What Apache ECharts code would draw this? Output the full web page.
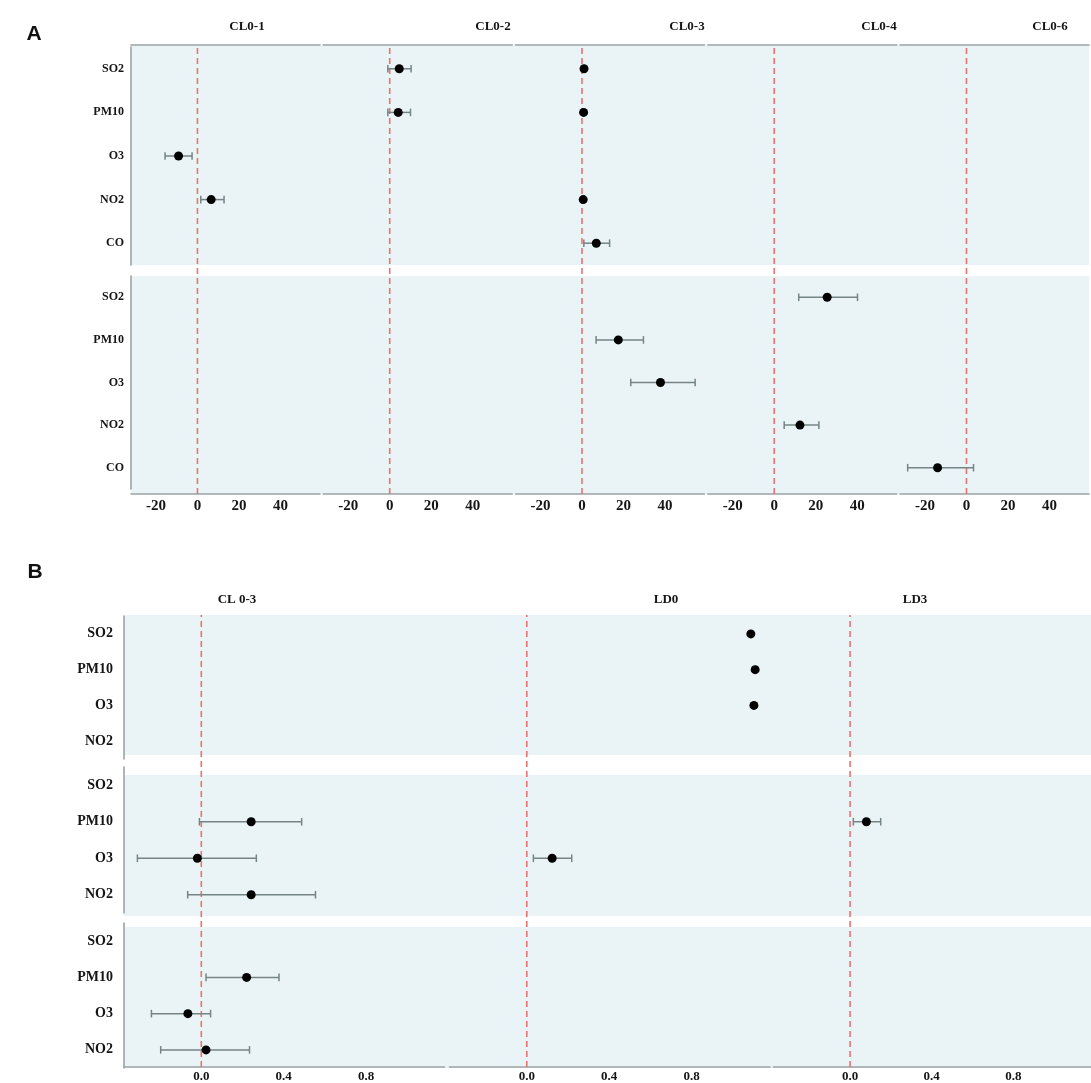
<!DOCTYPE html>
<html>
<head>
<meta charset="utf-8">
<title>Pollutant lag effects</title>
<script src="https://cdn.jsdelivr.net/npm/echarts@6/dist/echarts.min.js"></script>
<style>
  html, body { margin: 0; padding: 0; background: #ffffff; }
  #chart { width: 1091px; height: 1083px; }
</style>
</head>
<body>
<div id="chart"></div>
<script>
// ---------------- data ----------------
const pollutantsA = ['SO2', 'PM10', 'O3', 'NO2', 'CO'];
const pollutantsB = ['SO2', 'PM10', 'O3', 'NO2'];
const lagsA = ['CL0-1', 'CL0-2', 'CL0-3', 'CL0-4', 'CL0-6'];
const lagsB = ['CL 0-3', 'LD0', 'LD3'];
const ticksA = [-20, 0, 20, 40];
const ticksB = [0.0, 0.4, 0.8];

// each record: [lag, pollutant, estimate, lower, upper]
const estA1 = [
  ['CL0-1', 'O3', -9.1, -15.6, -2.6],
  ['CL0-1', 'NO2', 6.6, 1.6, 12.8],
  ['CL0-2', 'SO2', 4.6, -0.9, 10.3],
  ['CL0-2', 'PM10', 4.1, -0.9, 10.0],
  ['CL0-3', 'SO2', 1.0, 0.6, 1.4],
  ['CL0-3', 'PM10', 0.8, 0.4, 1.2],
  ['CL0-3', 'NO2', 0.6, 0.2, 1.0],
  ['CL0-3', 'CO', 6.9, 0.9, 13.3]
];
const estA2 = [
  ['CL0-3', 'PM10', 17.5, 6.8, 29.6],
  ['CL0-3', 'O3', 37.8, 23.5, 54.5],
  ['CL0-4', 'SO2', 25.5, 11.8, 40.1],
  ['CL0-4', 'NO2', 12.4, 4.8, 21.5],
  ['CL0-6', 'CO', -13.9, -28.3, 3.4]
];
const estB1 = [
  ['LD0', 'SO2', 1.087, 1.085, 1.089],
  ['LD0', 'PM10', 1.108, 1.106, 1.110],
  ['LD0', 'O3', 1.102, 1.100, 1.104]
];
const estB2 = [
  ['CL 0-3', 'PM10', 0.242, -0.009, 0.487],
  ['CL 0-3', 'O3', -0.019, -0.310, 0.267],
  ['CL 0-3', 'NO2', 0.242, -0.066, 0.554],
  ['LD0', 'O3', 0.123, 0.032, 0.218],
  ['LD3', 'PM10', 0.080, 0.016, 0.150]
];
const estB3 = [
  ['CL 0-3', 'PM10', 0.220, 0.023, 0.377],
  ['CL 0-3', 'O3', -0.065, -0.242, 0.045],
  ['CL 0-3', 'NO2', 0.023, -0.197, 0.234]
];

// ---------------- styling / layout ----------------
const SERIF = '"Liberation Serif", "Times New Roman", serif';
const SANS = '"Liberation Sans", Arial, sans-serif';
const BG = '#eaf4f6';
const AXIS_COL = '#9ca4a5';
const BAR_COL = '#758485';
const REF_COL = '#e87373';
const TEXT_COL = '#151515';

const panels = [
  {
    lags: lagsA, cats: pollutantsA, rows: [estA1, estA2], ticks: ticksA,
    min: -32, max: 59, colLeft: [131, 323.25, 515.5, 707.75, 900], colW: 189,
    top: 45, bottom: 494,
    rowBoxes: [[47, 218], [276, 213]], bgBoxes: [[45, 220], [276, 218]],
    topLine: true, yFont: 12, xFont: 15, yMargin: 7, xMargin: 5,
    fmt: v => String(Math.round(v)),
    letter: { text: 'A', x: 34, y: 34 },
    titleY: 27, titleX: [247, 493, 687, 879, 1050], titleFont: 13
  },
  {
    lags: lagsB, cats: pollutantsB, rows: [estB1, estB2, estB3], ticks: ticksB,
    min: -0.375, max: 1.18, colLeft: [124, 449.5, 773.5], colW: 320.5,
    top: 615, bottom: 1069,
    rowBoxes: [[616, 143], [767, 146], [923, 145]], bgBoxes: [[615, 140], [775, 141], [927, 141]],
    topLine: false, yFont: 14, xFont: 13, yMargin: 11, xMargin: 3,
    fmt: v => v.toFixed(1),
    letter: { text: 'B', x: 35, y: 572 },
    titleY: 600, titleX: [237, 666, 915], titleFont: 13
  }
];

const grid = [], xAxis = [], yAxis = [], series = [], graphic = [];

function addGrid(box) {
  grid.push(Object.assign({ containLabel: false }, box));
  return grid.length - 1;
}

panels.forEach(p => {
  const fullW = p.colLeft[p.colLeft.length - 1] + p.colW - p.colLeft[0];

  // shaded background band for each facet row
  p.bgBoxes.forEach(([t, h]) => {
    const g = addGrid({ left: p.colLeft[0], top: t, width: fullW, height: h,
      show: true, backgroundColor: BG, borderWidth: 0 });
    xAxis.push({ gridIndex: g, type: 'value', show: false, min: 0, max: 1 });
    yAxis.push({ gridIndex: g, type: 'value', show: false, min: 0, max: 1 });
  });

  p.lags.forEach((lag, c) => {
    // full-height column: bottom axis, optional top rule, zero reference line
    const cg = addGrid({ left: p.colLeft[c], top: p.top, width: p.colW, height: p.bottom - p.top });
    const cx = xAxis.length;
    xAxis.push({
      gridIndex: cg, type: 'value', min: p.min, max: p.max, position: 'bottom',
      axisLine: { show: true, onZero: false, lineStyle: { color: AXIS_COL, width: 1.6 } },
      axisTick: { show: false },
      splitLine: { show: false },
      axisLabel: {
        show: true, customValues: p.ticks, formatter: p.fmt, margin: p.xMargin,
        color: TEXT_COL, fontFamily: SERIF, fontWeight: 'bold', fontSize: p.xFont
      }
    });
    if (p.topLine) {
      xAxis.push({
        gridIndex: cg, type: 'value', min: p.min, max: p.max, position: 'top',
        axisLine: { show: true, onZero: false, lineStyle: { color: AXIS_COL, width: 1.6 } },
        axisTick: { show: false }, splitLine: { show: false }, axisLabel: { show: false }
      });
    }
    const cy = yAxis.length;
    yAxis.push({ gridIndex: cg, type: 'value', min: 0, max: 1, show: false });
    series.push({
      type: 'custom', xAxisIndex: cx, yAxisIndex: cy, z: 6, silent: true,
      data: [[0]],
      renderItem: (params, api) => {
        const a = api.coord([api.value(0), 0]);
        const b = api.coord([api.value(0), 1]);
        return { type: 'line', shape: { x1: a[0], y1: a[1], x2: a[0], y2: b[1] },
          style: { stroke: REF_COL, lineWidth: 1.6, lineDash: [6, 4] } };
      }
    });

    // column titles
    graphic.push({
      type: 'text', x: p.titleX[c], y: p.titleY, silent: true,
      style: { text: lag, align: 'center', verticalAlign: 'middle', fill: TEXT_COL,
        fontFamily: SERIF, fontWeight: 'bold', fontSize: p.titleFont }
    });

    // one plotting cell per facet row
    p.rows.forEach((rows, r) => {
      const [t, h] = p.rowBoxes[r];
      const g = addGrid({ left: p.colLeft[c], top: t, width: p.colW, height: h });
      const xi = xAxis.length;
      xAxis.push({ gridIndex: g, type: 'value', min: p.min, max: p.max, show: false });
      const yi = yAxis.length;
      const first = c === 0;
      yAxis.push({
        gridIndex: g, type: 'category', data: p.cats, inverse: true, show: first,
        position: 'left',
        axisLine: { show: first, onZero: false, lineStyle: { color: AXIS_COL, width: 1.6 } },
        axisTick: { show: false }, splitLine: { show: false },
        axisLabel: { show: first, margin: p.yMargin, color: TEXT_COL,
          fontFamily: SERIF, fontWeight: 'bold', fontSize: p.yFont }
      });
      const recs = rows.filter(d => d[0] === lag);
      const barData = recs.map(d => [d[2], d[3], d[4], p.cats.indexOf(d[1])]);
      const ptData = recs.map(d => [d[2], p.cats.indexOf(d[1])]);
      series.push({
        type: 'custom', xAxisIndex: xi, yAxisIndex: yi, z: 7, silent: true,
        encode: { x: [0, 1, 2], y: 3 },
        data: barData,
        renderItem: (params, api) => {
          const yv = api.value(3);
          const lo = api.coord([api.value(1), yv]);
          const hi = api.coord([api.value(2), yv]);
          const cap = 3.8;
          const st = { stroke: BAR_COL, lineWidth: 1.5 };
          return { type: 'group', children: [
            { type: 'line', shape: { x1: lo[0], y1: lo[1], x2: hi[0], y2: hi[1] }, style: st },
            { type: 'line', shape: { x1: lo[0], y1: lo[1] - cap, x2: lo[0], y2: lo[1] + cap }, style: st },
            { type: 'line', shape: { x1: hi[0], y1: hi[1] - cap, x2: hi[0], y2: hi[1] + cap }, style: st }
          ] };
        }
      });
      series.push({
        type: 'scatter', xAxisIndex: xi, yAxisIndex: yi, z: 8, silent: true,
        symbol: 'circle', symbolSize: 9,
        itemStyle: { color: '#000000', opacity: 1 },
        data: ptData
      });
    });
  });

  graphic.push({
    type: 'text', x: p.letter.x, y: p.letter.y, silent: true,
    style: { text: p.letter.text, align: 'center', verticalAlign: 'middle', fill: '#111111',
      fontFamily: SANS, fontWeight: 'bold', fontSize: 21 }
  });
});

const chart = echarts.init(document.getElementById('chart'), null, { renderer: 'canvas' });
chart.setOption({
  backgroundColor: '#ffffff',
  animation: false,
  grid, xAxis, yAxis, series, graphic
});
</script>
</body>
</html>
